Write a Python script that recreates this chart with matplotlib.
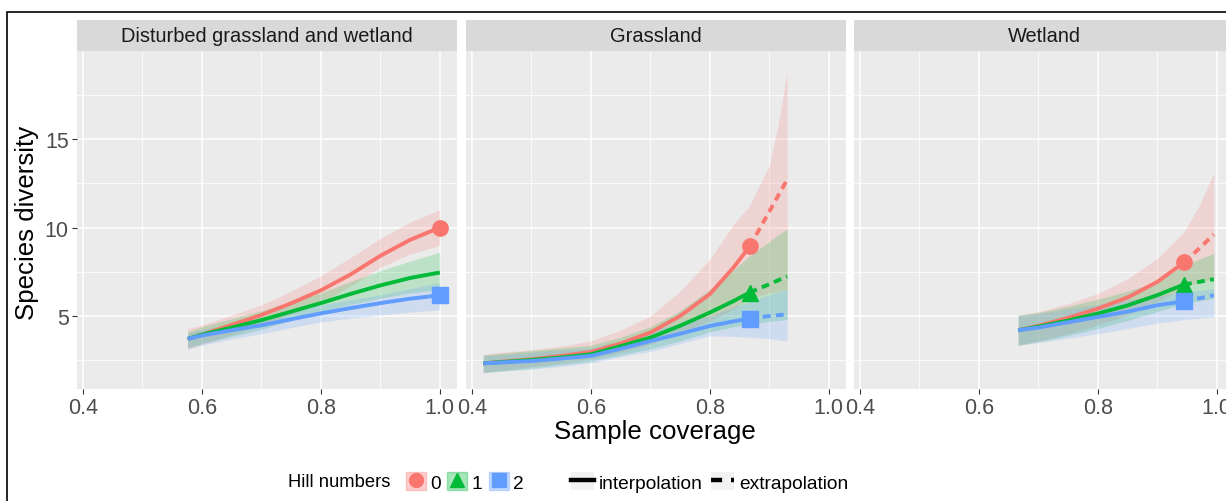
import numpy as np
import matplotlib
matplotlib.use('Agg')
import matplotlib.pyplot as plt
from matplotlib.lines import Line2D
from matplotlib.patches import Patch, Rectangle

plt.rcParams['font.family'] = ['Liberation Sans', 'DejaVu Sans']

# ---- data (coverage-based rarefaction / extrapolation) ----
SITES = ['Disturbed grassland and wetland', 'Grassland', 'Wetland']
ORDERS = ['0', '1', '2']

# Disturbed grassland and wetland (observed sample = last point)
DG_X = [0.576, 0.60, 0.65, 0.70, 0.75, 0.80, 0.85, 0.90, 0.95, 1.0]
DG_OBS = 9
DG_Q0 = [3.71, 3.95, 4.5, 5.06, 5.72, 6.45, 7.35, 8.4, 9.3, 10.0]
DG_Q1 = [3.71, 3.95, 4.35, 4.77, 5.25, 5.73, 6.25, 6.73, 7.15, 7.46]
DG_Q2 = [3.71, 3.9, 4.2, 4.48, 4.82, 5.15, 5.45, 5.73, 5.98, 6.17]
DG_Q0_LO = [3.13, 3.4, 3.95, 4.48, 5.1, 5.73, 6.7, 7.75, 8.5, 9.0]
DG_Q0_HI = [4.29, 4.5, 5.05, 5.63, 6.4, 7.27, 8.3, 9.38, 10.3, 11.0]
DG_Q1_LO = [3.23, 3.45, 3.85, 4.25, 4.75, 5.25, 5.65, 6.0, 6.3, 6.5]
DG_Q1_HI = [4.1, 4.4, 4.85, 5.3, 5.8, 6.3, 6.95, 7.56, 8.1, 8.6]
DG_Q2_LO = [3.13, 3.35, 3.7, 4.0, 4.35, 4.67, 4.88, 5.06, 5.22, 5.35]
DG_Q2_HI = [4.0, 4.25, 4.55, 4.9, 5.25, 5.63, 5.92, 6.2, 6.55, 6.88]
DG_MARKED = [True, False, True]

# Grassland
GR_X = [0.419, 0.45, 0.50, 0.55, 0.60, 0.65, 0.70, 0.75, 0.80, 0.84, 0.867, 0.90, 0.915, 0.93]
GR_OBS = 10
GR_Q0 = [2.33, 2.42, 2.56, 2.75, 2.97, 3.45, 4.07, 5.0, 6.24, 7.75, 8.93, 10.9, 11.8, 12.7]
GR_Q1 = [2.33, 2.4, 2.52, 2.66, 2.84, 3.3, 3.78, 4.45, 5.2, 5.85, 6.33, 6.8, 7.02, 7.24]
GR_Q2 = [2.33, 2.38, 2.46, 2.6, 2.75, 3.15, 3.59, 4.0, 4.44, 4.7, 4.86, 5.0, 5.05, 5.1]
GR_Q0_LO = [1.8, 1.95, 2.15, 2.35, 2.56, 2.95, 3.4, 4.1, 4.7, 5.4, 6.0, 6.3, 6.4, 6.5]
GR_Q0_HI = [2.84, 2.95, 3.1, 3.3, 3.6, 4.2, 5.0, 6.4, 8.2, 10.2, 11.24, 13.5, 15.8, 18.8]
GR_Q1_LO = [1.8, 1.9, 2.05, 2.25, 2.45, 2.8, 3.15, 3.6, 4.1, 4.4, 4.55, 4.7, 4.75, 4.8]
GR_Q1_HI = [2.8, 2.9, 3.05, 3.2, 3.35, 3.8, 4.4, 5.3, 6.5, 7.6, 8.4, 9.2, 9.6, 9.9]
GR_Q2_LO = [1.8, 1.88, 2.0, 2.15, 2.35, 2.7, 3.0, 3.45, 3.88, 3.85, 3.8, 3.72, 3.66, 3.6]
GR_Q2_HI = [2.75, 2.82, 2.95, 3.1, 3.2, 3.6, 4.15, 4.6, 5.0, 5.5, 5.8, 6.2, 6.35, 6.5]
GR_MARKED = [True, True, True]

# Wetland
WE_X = [0.666, 0.70, 0.75, 0.80, 0.85, 0.90, 0.945, 0.97, 0.995]
WE_OBS = 6
WE_Q0 = [4.2, 4.45, 4.9, 5.42, 6.05, 6.93, 8.03, 8.8, 9.61]
WE_Q1 = [4.2, 4.4, 4.75, 5.14, 5.6, 6.18, 6.78, 6.93, 7.08]
WE_Q2 = [4.2, 4.35, 4.65, 4.95, 5.25, 5.61, 5.84, 6.0, 6.18]
WE_Q0_LO = [3.35, 3.6, 4.0, 4.5, 5.05, 5.8, 6.6, 6.9, 7.1]
WE_Q0_HI = [5.05, 5.25, 5.7, 6.27, 7.1, 8.25, 9.76, 11.2, 13.07]
WE_Q1_LO = [3.35, 3.55, 3.9, 4.3, 4.75, 5.25, 5.7, 5.85, 6.0]
WE_Q1_HI = [5.05, 5.2, 5.55, 5.95, 6.4, 6.93, 7.88, 8.2, 8.54]
WE_Q2_LO = [3.35, 3.5, 3.75, 4.0, 4.3, 4.6, 4.8, 4.88, 4.95]
WE_Q2_HI = [5.0, 5.15, 5.4, 5.65, 5.9, 6.15, 6.35, 6.45, 6.56]
WE_MARKED = [True, True, True]

X_TICKS = [0.4, 0.6, 0.8, 1.0]
X_TICK_LABELS = ['0.4', '0.6', '0.8', '1.0']
Y_TICKS = [5, 10, 15]

# ---- styling ----
COLORS = ['#F8766D', '#00BA38', '#619CFF']
MARKERS = ['o', '^', 's']
PANEL_BG = '#EBEBEB'
STRIP_BG = '#D9D9D9'
W, H = 1226, 502


def fbox(left, top, w, h):
    return [left / W, 1 - (top + h) / H, w / W, h / H]


sites = [
    (DG_X, DG_OBS, [DG_Q0, DG_Q1, DG_Q2],
     [(DG_Q0_LO, DG_Q0_HI), (DG_Q1_LO, DG_Q1_HI), (DG_Q2_LO, DG_Q2_HI)], DG_MARKED),
    (GR_X, GR_OBS, [GR_Q0, GR_Q1, GR_Q2],
     [(GR_Q0_LO, GR_Q0_HI), (GR_Q1_LO, GR_Q1_HI), (GR_Q2_LO, GR_Q2_HI)], GR_MARKED),
    (WE_X, WE_OBS, [WE_Q0, WE_Q1, WE_Q2],
     [(WE_Q0_LO, WE_Q0_HI), (WE_Q1_LO, WE_Q1_HI), (WE_Q2_LO, WE_Q2_HI)], WE_MARKED),
]

fig = plt.figure(figsize=(12.26, 5.02), dpi=100)

panel_lefts = [77, 466, 854]
for i, (name, (xs, obs, curves, bands, marked)) in enumerate(zip(SITES, sites)):
    ax = fig.add_axes(fbox(panel_lefts[i], 52, 380, 338))
    ax.set_facecolor(PANEL_BG)
    xs = np.asarray(xs)

    for q in range(3):
        lo, hi = bands[q]
        ax.fill_between(xs, lo, hi, color=COLORS[q], alpha=0.2, linewidth=0, zorder=2)
    for q in range(3):
        y = np.asarray(curves[q])
        ax.plot(xs[:obs + 1], y[:obs + 1], color=COLORS[q], lw=2.8,
                solid_capstyle='butt', solid_joinstyle='round', zorder=3)
        if obs < len(xs) - 1:
            ax.plot(xs[obs:], y[obs:], color=COLORS[q], lw=2.8,
                    dashes=(2.0, 1.4), zorder=3)
        if marked[q]:
            ax.plot(xs[obs], y[obs], marker=MARKERS[q], color=COLORS[q],
                    ms=11, mec=COLORS[q], zorder=4, ls='none')

    ax.set_xlim(0.39, 1.029)
    ax.set_ylim(0.88, 19.97)
    ax.set_xticks(X_TICKS)
    ax.set_xticklabels(X_TICK_LABELS)
    ax.set_xticks([0.5, 0.7, 0.9], minor=True)
    ax.set_yticks(Y_TICKS)
    ax.set_yticks([2.5, 7.5, 12.5, 17.5], minor=True)
    ax.grid(which='major', color='white', lw=1.1, zorder=1)
    ax.grid(which='minor', color='white', lw=0.55, zorder=1)
    ax.set_axisbelow(True)
    for sp in ax.spines.values():
        sp.set_visible(False)
    ax.tick_params(which='major', length=3.5, width=0.8, color='#333333',
                   labelsize=15.5, labelcolor='#4D4D4D', pad=2.5)
    ax.tick_params(which='minor', length=0)
    if i > 0:
        ax.tick_params(axis='y', which='major', length=0, labelleft=False)

    sax = fig.add_axes(fbox(panel_lefts[i], 21, 380, 31))
    sax.set_facecolor(STRIP_BG)
    sax.set_xticks([])
    sax.set_yticks([])
    for sp in sax.spines.values():
        sp.set_visible(False)
    sax.text(0.5, 0.5, name, ha='center', va='center', fontsize=14.4,
             color='#1A1A1A', transform=sax.transAxes)

fig.text(655 / W, 1 - 432 / H, 'Sample coverage', ha='center', va='center', fontsize=18.6)
fig.text(27 / W, 1 - 223 / H, 'Species diversity', ha='center', va='center',
         rotation=90, fontsize=18.6)

# legend
fig.text(288 / W, 1 - 483 / H, 'Hill numbers', ha='left', va='center', fontsize=13.2)
hill_handles = []
for q in range(3):
    box = Patch(facecolor=COLORS[q], alpha=0.35, edgecolor=COLORS[q], linewidth=1)
    mk = Line2D([], [], marker=MARKERS[q], color=COLORS[q], ms=10, ls='none')
    hill_handles.append((box, mk))
fig.legend(hill_handles, ORDERS, loc='center left', bbox_to_anchor=(406 / W, 1 - 483 / H),
           ncol=3, frameon=False, fontsize=13.8, handlelength=1.05, handleheight=1.05,
           handletextpad=0.2, columnspacing=0.35, borderpad=0, borderaxespad=0)

lt_handles = [
    (Patch(facecolor='#F2F2F2', edgecolor='none'), Line2D([], [], color='black', lw=3.2)),
    (Patch(facecolor='#F2F2F2', edgecolor='none'),
     Line2D([], [], color='black', lw=3.2, dashes=(2.5, 2.0))),
]
fig.legend(lt_handles, ['interpolation', 'extrapolation'], loc='center left',
           bbox_to_anchor=(571 / W, 1 - 483 / H), ncol=2, frameon=False, fontsize=13.8,
           handlelength=1.2, handleheight=1.05, handletextpad=0.25, columnspacing=0.45,
           borderpad=0, borderaxespad=0)

# outer frame of the exported figure
fig.patches.append(Rectangle((7 / W, -0.05), 1.2, 1.05 - 13 / H, transform=fig.transFigure,
                             fill=False, edgecolor='black', lw=1.2, zorder=10))

fig.savefig('out.png', dpi=100)
